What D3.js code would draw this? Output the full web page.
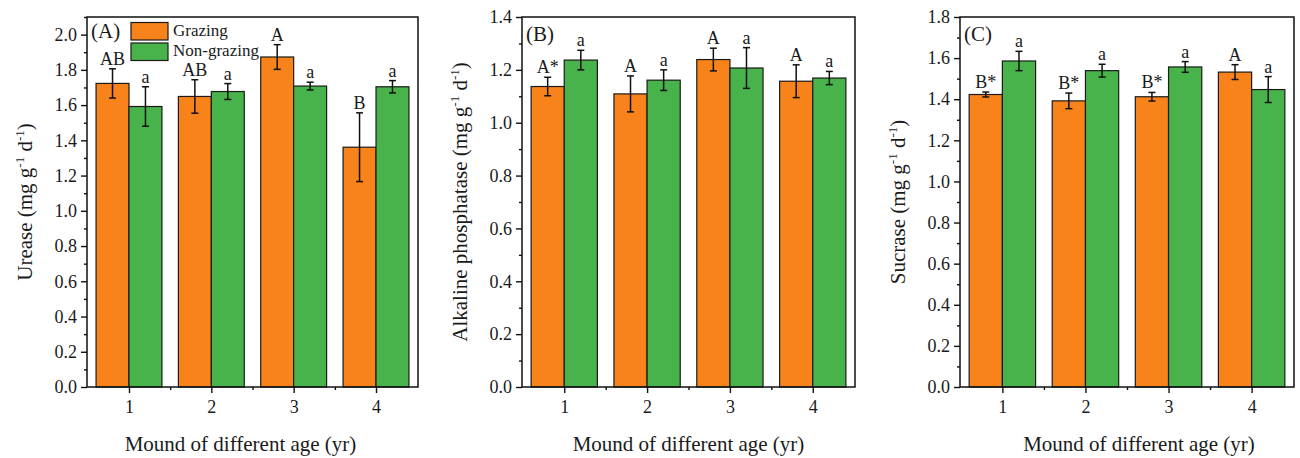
<!DOCTYPE html>
<html>
<head>
<meta charset="utf-8">
<script src="https://cdn.jsdelivr.net/npm/d3@7"></script>
<style>
  body { margin: 0; background: #fff; }
  svg text { font-family: "Liberation Serif", "Times New Roman", serif; fill: #1a1a1a; }
</style>
</head>
<body>
<svg id="chart" width="1300" height="458"></svg>
<script>
const mounds = [1, 2, 3, 4];

// Urease
const ureaseG = [1.723, 1.649, 1.873, 1.361];
const ureaseGErr = [0.083, 0.095, 0.070, 0.195];
const ureaseN = [1.592, 1.677, 1.708, 1.704];
const ureaseNErr = [0.112, 0.045, 0.022, 0.035];
const ureaseGLab = ['AB', 'AB', 'A', 'B'];
const ureaseNLab = ['a', 'a', 'a', 'a'];

// Alkaline phosphatase
const alkG = [1.137, 1.109, 1.239, 1.157];
const alkGErr = [0.035, 0.068, 0.043, 0.062];
const alkN = [1.237, 1.161, 1.207, 1.169];
const alkNErr = [0.037, 0.039, 0.077, 0.025];
const alkGLab = ['A*', 'A', 'A', 'A'];
const alkNLab = ['a', 'a', 'a', 'a'];

// Sucrase
const sucG = [1.423, 1.392, 1.412, 1.532];
const sucGErr = [0.012, 0.038, 0.021, 0.036];
const sucN = [1.586, 1.539, 1.557, 1.447];
const sucNErr = [0.047, 0.031, 0.026, 0.063];
const sucGLab = ['B*', 'B*', 'B*', 'A'];
const sucNLab = ['a', 'a', 'a', 'a'];

const seriesNames = ['Grazing', 'Non-grazing'];
const colors = ['#f8831b', '#47b34a'];

const panels = [
  { tag: '(A)', name: 'Urease', yMax: 2.1, yTop: 2.0, g: ureaseG, gErr: ureaseGErr, n: ureaseN, nErr: ureaseNErr,
    gLab: ureaseGLab, nLab: ureaseNLab, left: 87, right: 418, tagY: 38, titleDx: -12, legend: true },
  { tag: '(B)', name: 'Alkaline phosphatase', yMax: 1.4, yTop: 1.4, g: alkG, gErr: alkGErr, n: alkN, nErr: alkNErr,
    gLab: alkGLab, nLab: alkNLab, left: 522, right: 855, tagY: 41, titleDx: 0 },
  { tag: '(C)', name: 'Sucrase', yMax: 1.8, yTop: 1.8, g: sucG, gErr: sucGErr, n: sucN, nErr: sucNErr,
    gLab: sucGLab, nLab: sucNLab, left: 960, right: 1294, tagY: 41, titleDx: 12 }
];

const plotTop = 17, plotBottom = 387;
const svg = d3.select('#chart');

panels.forEach(p => {
  const x = d3.scaleLinear().domain([0.49, 4.51]).range([p.left, p.right]);
  const y = d3.scaleLinear().domain([0, p.yMax]).range([plotBottom, plotTop]);
  const g = svg.append('g');
  const bw = 0.4;

  const major = d3.range(0, p.yTop + 1e-9, 0.2);
  const minor = d3.range(0.1, p.yMax + 1e-9, 0.2);

  // y axis
  const yAxis = g.append('g').attr('transform', `translate(${p.left},0)`)
    .call(d3.axisLeft(y).tickValues(major).tickSize(6).tickPadding(4).tickFormat(d3.format('.1f')));
  yAxis.select('.domain').remove();
  yAxis.selectAll('text').attr('font-size', 18).attr('fill', '#1a1a1a')
    .style('font-family', '"Liberation Serif", serif');
  yAxis.selectAll('line').attr('stroke', '#111').attr('stroke-width', 1.4);
  const yMinor = g.append('g').attr('transform', `translate(${p.left},0)`)
    .call(d3.axisLeft(y).tickValues(minor).tickSize(3).tickFormat(''));
  yMinor.select('.domain').remove();
  yMinor.selectAll('line').attr('stroke', '#111').attr('stroke-width', 1.4);

  // x axis
  const xAxis = g.append('g').attr('transform', `translate(0,${plotBottom})`)
    .call(d3.axisBottom(x).tickValues(mounds).tickSize(6).tickPadding(7).tickFormat(d3.format('d')));
  xAxis.select('.domain').remove();
  xAxis.selectAll('text').attr('font-size', 18).attr('fill', '#1a1a1a')
    .style('font-family', '"Liberation Serif", serif');
  xAxis.selectAll('line').attr('stroke', '#111').attr('stroke-width', 1.4);
  const xMinor = g.append('g').attr('transform', `translate(0,${plotBottom})`)
    .call(d3.axisBottom(x).tickValues([1.5, 2.5, 3.5]).tickSize(3).tickFormat(''));
  xMinor.select('.domain').remove();
  xMinor.selectAll('line').attr('stroke', '#111').attr('stroke-width', 1.4);

  // bars
  const rows = mounds.map((m, i) => [
    { m, v: p.g[i], e: p.gErr[i], lab: p.gLab[i], s: 0 },
    { m, v: p.n[i], e: p.nErr[i], lab: p.nLab[i], s: 1 }
  ]).flat();

  g.selectAll('rect.bar').data(rows).enter().append('rect')
    .attr('class', 'bar')
    .attr('x', d => x(d.s === 0 ? d.m - bw : d.m))
    .attr('width', d => x(bw) - x(0))
    .attr('y', d => y(d.v))
    .attr('height', d => y(0) - y(d.v))
    .attr('fill', d => colors[d.s])
    .attr('stroke', '#1a1a1a')
    .attr('stroke-width', 1.2);

  // error bars
  const cx = d => x(d.s === 0 ? d.m - bw / 2 : d.m + bw / 2);
  const eb = g.selectAll('g.err').data(rows).enter().append('g').attr('class', 'err')
    .attr('stroke', '#111').attr('stroke-width', 1.5);
  eb.append('line').attr('x1', cx).attr('x2', cx)
    .attr('y1', d => y(d.v + d.e)).attr('y2', d => y(d.v - d.e));
  eb.append('line').attr('x1', d => cx(d) - 3.5).attr('x2', d => cx(d) + 3.5)
    .attr('y1', d => y(d.v + d.e)).attr('y2', d => y(d.v + d.e));
  eb.append('line').attr('x1', d => cx(d) - 3.5).attr('x2', d => cx(d) + 3.5)
    .attr('y1', d => y(d.v - d.e)).attr('y2', d => y(d.v - d.e));

  // significance letters
  g.selectAll('text.lab').data(rows).enter().append('text')
    .attr('class', 'lab')
    .attr('x', cx)
    .attr('y', d => y(d.v + d.e) - 4)
    .attr('text-anchor', 'middle')
    .attr('font-size', 18)
    .text(d => d.lab);

  // frame
  g.append('rect')
    .attr('x', p.left).attr('y', plotTop)
    .attr('width', p.right - p.left).attr('height', plotBottom - plotTop)
    .attr('fill', 'none').attr('stroke', '#111').attr('stroke-width', 1.5);

  // panel tag
  g.append('text').attr('x', p.left + 4).attr('y', p.tagY)
    .attr('font-size', 21).text(p.tag);

  // axis titles
  g.append('text')
    .attr('x', (p.left + p.right) / 2 + p.titleDx).attr('y', 451)
    .attr('text-anchor', 'middle').attr('font-size', 21)
    .text('Mound of different age (yr)');

  const yt = g.append('text')
    .attr('transform', `translate(${p.left - 55},${(plotTop + plotBottom) / 2}) rotate(-90)`)
    .attr('text-anchor', 'middle').attr('font-size', 21);
  yt.append('tspan').text(p.name + ' (mg g');
  yt.append('tspan').attr('font-size', 13).attr('dy', -8).text('-1');
  yt.append('tspan').attr('dy', 8).text(' d');
  yt.append('tspan').attr('font-size', 13).attr('dy', -8).text('-1');
  yt.append('tspan').attr('dy', 8).text(')');

  // legend
  if (p.legend) {
    seriesNames.forEach((s, i) => {
      g.append('rect').attr('x', 131).attr('y', 22.5 + i * 20.5)
        .attr('width', 37).attr('height', 17.5)
        .attr('fill', colors[i]).attr('stroke', '#1a1a1a').attr('stroke-width', 1.2);
      g.append('text').attr('x', 173).attr('y', 36 + i * 20)
        .attr('font-size', 17).text(s);
    });
  }
});
</script>
</body>
</html>
